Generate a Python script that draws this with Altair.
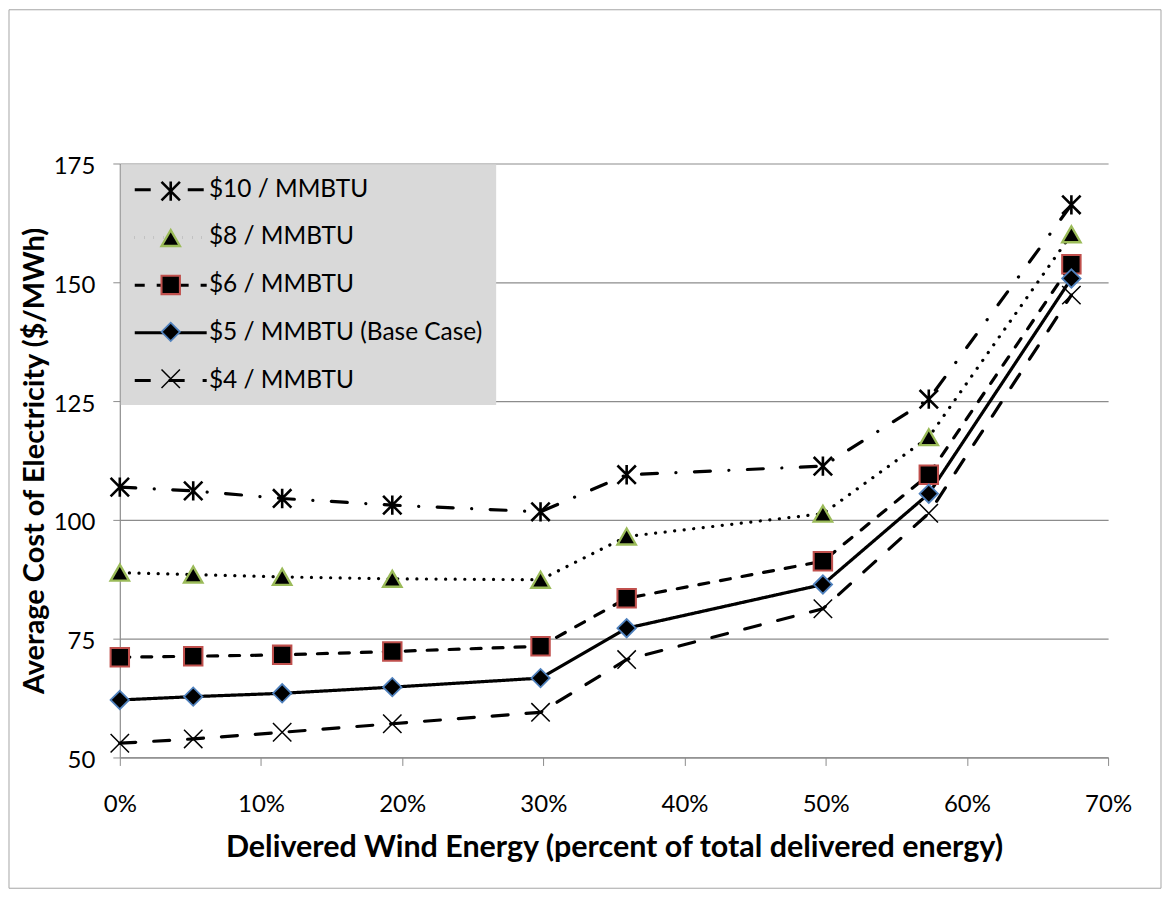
import altair as alt
import pandas as pd

# ---- data ----
wind_pct = [0.0, 5.2, 11.5, 19.3, 29.8, 35.9, 49.8, 57.3, 67.4]
series_names = ["$10 / MMBTU", "$8 / MMBTU", "$6 / MMBTU",
                "$5 / MMBTU (Base Case)", "$4 / MMBTU"]
marker_keys = ["m10", "m8", "m6", "m5", "m4"]
cost_10 = [106.9, 106.1, 104.5, 103.1, 101.7, 109.5, 111.3, 125.4, 166.3]
cost_8 = [88.9, 88.5, 88.0, 87.6, 87.4, 96.5, 101.3, 117.4, 160.1]
cost_6 = [71.1, 71.3, 71.6, 72.3, 73.4, 83.5, 91.3, 109.5, 153.8]
cost_5 = [62.1, 62.8, 63.5, 64.8, 66.7, 77.2, 86.4, 105.5, 150.8]
cost_4 = [53.0, 53.9, 55.3, 57.1, 59.5, 70.6, 81.3, 101.4, 147.3]
y_ticks = [50, 75, 100, 125, 150, 175]
x_ticks = [0.0, 0.1, 0.2, 0.3, 0.4, 0.5, 0.6, 0.7]

all_costs = [cost_10, cost_8, cost_6, cost_5, cost_4]
rows = []
for name, key, vals in zip(series_names, marker_keys, all_costs):
    for p, v in zip(wind_pct, vals):
        rows.append({"wind": p / 100.0, "cost": v, "series": name, "key": key})
df = pd.DataFrame(rows)

# ---- styles ----
dashes = [[16, 18.5, 0.1, 18.5], [0.1, 9.5], [10, 12], [1, 0], [16, 18]]
shapes = ["M-1,-1L1,1M-1,1L1,-1M0,-1.05L0,1.05", "triangle-up", "square",
          "diamond", "M-1,-1L1,1M-1,1L1,-1"]
outline = ["#000000", "#9bbb59", "#c0504d", "#4f81bd", "#000000"]
outline_w = [2.6, 1.5, 1.5, 1.5, 2.6]
FONT = "Lato"
GRID = "#8c8c8c"

x_enc = alt.X("wind:Q", scale=alt.Scale(domain=[0, 0.7], nice=False),
              axis=alt.Axis(values=x_ticks, format=".0%", grid=False, tickSize=8,
                            labelFlush=False, labelPadding=27, titlePadding=16,
                            titleFontSize=30.5,
                            title="Delivered Wind Energy (percent of total delivered energy)"))
y_enc = alt.Y("cost:Q", scale=alt.Scale(domain=[50, 175], nice=False, zero=False),
              axis=alt.Axis(values=y_ticks, tickSize=7, labelPadding=18, titlePadding=4,
                            labelOffset=3, titleFontSize=29,
                            title="Average Cost of Electricity ($/MWh)"))

# legend with the dashed line samples and the visible labels
legend_lines = alt.Legend(title=None, orient="none", legendX=1, legendY=1, padding=13,
                          rowPadding=22.8, fillColor="#d9d9d9",
                          symbolType="M-4.24,0H4.24", symbolSize=289, symbolStrokeWidth=3,
                          symbolStrokeColor="black", symbolOffset=24.75, labelOffset=26,
                          labelFont=FONT, labelFontSize=24.5, labelColor="black",
                          labelLimit=400)


def marker_legend():
    # marker samples laid over the middle of the line samples
    return alt.Legend(title=None, orient="none", legendX=1, legendY=-0.35, padding=13,
                      rowPadding=17.0, symbolSize=340, symbolOffset=22, labelOffset=0,
                      labelFont=FONT, labelFontSize=30, labelExpr="' '", labelOpacity=0,
                      symbolFillColor="black", symbolOpacity=1)


lines = alt.Chart(df).mark_line(color="black", strokeWidth=3.2, strokeCap="round").encode(
    x=x_enc, y=y_enc,
    strokeDash=alt.StrokeDash("series:N",
                              scale=alt.Scale(domain=series_names, range=dashes),
                              legend=legend_lines),
)

points = alt.Chart(df).mark_point(filled=True, fill="black", size=340, opacity=1).encode(
    x="wind:Q", y="cost:Q",
    shape=alt.Shape("key:N", scale=alt.Scale(domain=marker_keys, range=shapes),
                    legend=marker_legend()),
    stroke=alt.Stroke("key:N", scale=alt.Scale(domain=marker_keys, range=outline),
                      legend=marker_legend()),
    strokeWidth=alt.StrokeWidth("key:N", scale=alt.Scale(domain=marker_keys, range=outline_w),
                                legend=marker_legend()),
)

frame = alt.Chart(pd.DataFrame({"f": [0]})).mark_rect(filled=False, stroke="#a6a6a6",
                                                       strokeWidth=1).encode(
    x=alt.value(-111), x2=alt.value(1043), y=alt.value(-154), y2=alt.value(726))

chart = alt.layer(frame, lines, points).properties(
    width=990, height=595, padding=0
).configure(font=FONT).configure_view(stroke="transparent").configure_axis(
    domainColor=GRID, tickColor=GRID, gridColor=GRID, gridWidth=1.2, domainWidth=1.2,
    labelFont=FONT, labelFontSize=24, labelColor="black",
    titleFont=FONT, titleFontWeight="bold", titleColor="black"
)

chart.save("out.html", embed_options={"renderer": "svg", "actions": False})
